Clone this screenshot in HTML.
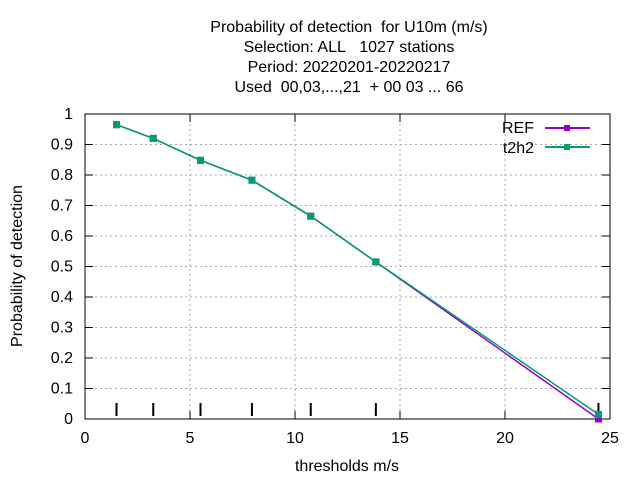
<!DOCTYPE html>
<html><head><meta charset="utf-8"><style>
body{margin:0;background:#fff;font-family:"Liberation Sans",sans-serif;}
</style></head><body>
<svg id="chart" width="640" height="480" xmlns="http://www.w3.org/2000/svg" font-family="Liberation Sans, sans-serif" font-size="16">
<g text-anchor="middle" font-size="16">
<text x="349" y="32">Probability of detection&#160; for U10m (m/s)</text>
<text x="349" y="52">Selection: ALL&#160;&#160; 1027 stations</text>
<text x="349" y="72">Period: 20220201-20220217</text>
<text x="349" y="92">Used&#160; 00,03,...,21&#160; + 00 03 ... 66</text>
</g>
<g id="grid"></g>
<g id="axes"></g>
<g id="series"></g>
<text transform="translate(22,266) rotate(-90)" text-anchor="middle">Probability of detection</text>
<text x="347" y="471" text-anchor="middle">thresholds m/s</text>
<g>
<g><text x="534" y="133" text-anchor="end">REF</text><line x1="545" y1="128" x2="590" y2="128" stroke="#9400d3" stroke-width="2"/><rect x="564" y="125" width="6" height="6" fill="#9400d3"/></g>
<g><text x="534" y="153" text-anchor="end">t2h2</text><line x1="545" y1="147" x2="590" y2="147" stroke="#009e73" stroke-width="2"/><rect x="564" y="144" width="6" height="6" fill="#009e73"/></g>
</g>
</svg>
<script>
const xs = [1.5, 3.25, 5.5, 7.95, 10.75, 13.85, 24.45];
const refVals = [0.965, 0.92, 0.848, 0.783, 0.665, 0.515, 0.0];
const t2h2Vals = [0.965, 0.92, 0.848, 0.783, 0.665, 0.515, 0.015];
const xTicks = [0, 5, 10, 15, 20, 25];
const yTicks = [0, 0.1, 0.2, 0.3, 0.4, 0.5, 0.6, 0.7, 0.8, 0.9, 1];
const NS = "http://www.w3.org/2000/svg";
const L = 85, R = 610, T = 114, B = 419;
const X = v => L + (v / 25) * (R - L);
const Y = v => B - v * (B - T);
function mk(tag, attrs, parent) { const e = document.createElementNS(NS, tag); for (const k in attrs) e.setAttribute(k, attrs[k]); parent.appendChild(e); return e; }
const grid = document.getElementById('grid'), axes = document.getElementById('axes'), ser = document.getElementById('series');
yTicks.forEach(t => {
  const y = Y(t);
  if (t > 0 && t < 1) {
    const g = mk('line', {x1: L, x2: R, y1: y, y2: y, stroke: '#aaa', 'stroke-dasharray': '2,3', 'stroke-width': 1}, grid);
    
    
  }
  mk('line', {x1: L, x2: L + 8, y1: y, y2: y, stroke: '#000'}, axes);
  mk('line', {x1: R, x2: R - 8, y1: y, y2: y, stroke: '#000'}, axes);
  const tx = mk('text', {x: L - 12, y: y + 5, 'text-anchor': 'end'}, axes);
  tx.textContent = String(t);
  
  
});
xTicks.forEach(t => {
  const x = X(t);
  if (t > 0 && t < 25) {
    const g = mk('line', {x1: x, x2: x, y1: T, y2: B, stroke: '#aaa', 'stroke-dasharray': '2,3', 'stroke-width': 1}, grid);
    
    
  }
  mk('line', {x1: x, x2: x, y1: B, y2: B - 8, stroke: '#000'}, axes);
  mk('line', {x1: x, x2: x, y1: T, y2: T + 8, stroke: '#000'}, axes);
  const tx = mk('text', {x: x, y: B + 24, 'text-anchor': 'middle'}, axes);
  tx.textContent = String(t);
  
  
});
mk('rect', {x: L, y: T, width: R - L, height: B - T, fill: 'none', stroke: '#000'}, axes);
xs.forEach(v => {
  const m = mk('line', {x1: X(v), x2: X(v), y1: B - 16, y2: B - 3, stroke: '#000', 'stroke-width': 2}, axes);
  
  
});
function drawSeries(vals, color, name) {
  const pts = xs.map((v, i) => X(v) + ',' + Y(vals[i])).join(' ');
  const pl = mk('polyline', {points: pts, fill: 'none', stroke: color, 'stroke-width': 1.5}, ser);
  
  
  xs.forEach((v, i) => {
    const p = mk('rect', {x: X(v) - 3.5, y: Y(vals[i]) - 3.5, width: 7, height: 7, fill: color}, ser);
    
    
  });
}
drawSeries(refVals, '#9400d3', 'ref');
drawSeries(t2h2Vals, '#009e73', 't2h2');
</script>
</body></html>
